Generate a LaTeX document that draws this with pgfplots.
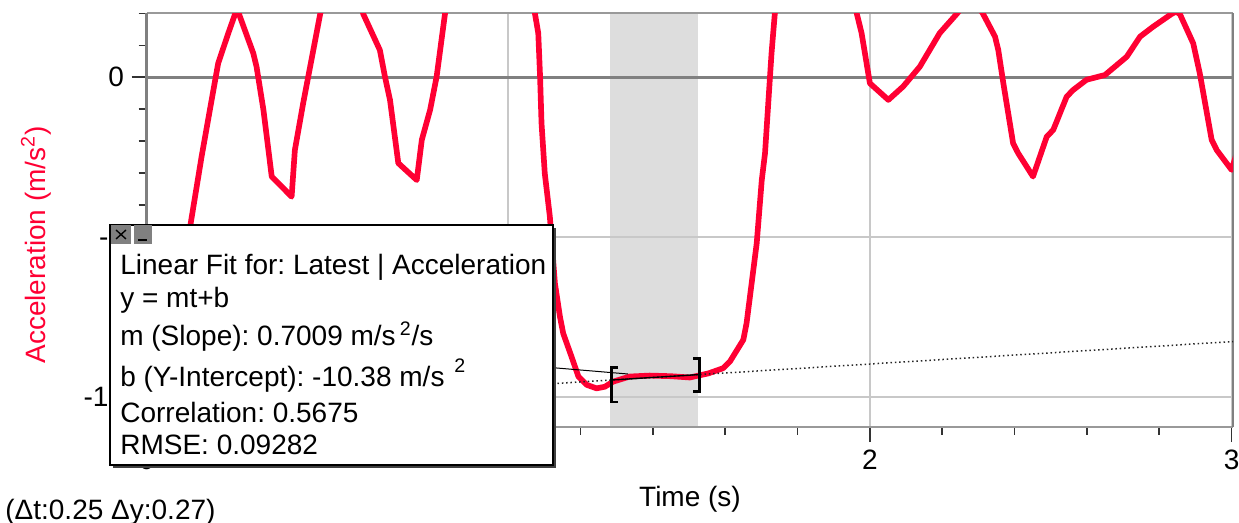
\documentclass[border=0pt]{standalone}
\usepackage{pgfplots}
\pgfplotsset{compat=1.18}
\usepackage{fontspec}
\setmainfont{Liberation Sans}
\frenchspacing
\definecolor{curvered}{RGB}{255,0,51}
\definecolor{gridgray}{RGB}{200,200,200}
\definecolor{zerogray}{RGB}{128,128,128}
\definecolor{bandgray}{RGB}{221,221,221}
\newcommand\fs{\fontsize{16.8pt}{20pt}\selectfont}
\begin{document}
\begin{tikzpicture}
\begin{axis}[
  set layers,
  at={(87.96pt,57.6pt)}, anchor=south west,
  scale only axis, width=651.84pt, height=248.2pt,
  xmin=0, xmax=3.004, ymin=-10.95, ymax=2,
  xtick={0,1,2,3}, xticklabels={0,1,2,3},
  minor x tick num=4,
  ytick={-10,-5,0}, yticklabels={-10,-5,0},
  minor ytick={-9,-8,-7,-6,-4,-3,-2,-1,1,2},
  xtick pos=bottom, ytick pos=left,
  tick align=outside,
  major tick length=9pt, minor tick length=4.8pt,
  tick style={black!80, line width=0.9pt},
  grid=major,
  major grid style={gridgray, line width=1.2pt},
  separate axis lines,
  every outer x axis line/.append style={draw=gray!80, line width=1.2pt},
  every outer y axis line/.append style={draw=gray, line width=1.6pt},
  ticklabel style={font=\fs},
  xticklabel style={yshift=-1pt},
  yticklabel style={xshift=-1pt},
]
% selection band
\addplot[on layer=axis background, fill=bandgray, draw=none]
  coordinates {(1.281,-10.95) (1.524,-10.95) (1.524,2) (1.281,2)} -- cycle;
% zero line
\addplot[on layer=axis grid, zerogray, line width=1.8pt] coordinates {(0,0) (3.004,0)};
% acceleration
\addplot[curvered, line width=3.4pt, line join=round] table {
t a
0.100 -6.10
0.122 -4.57
0.152 -2.49
0.175 -1.02
0.198 0.44
0.226 1.38
0.250 2.15
0.295 0.75
0.304 0.33
0.323 -1.02
0.346 -3.11
0.401 -3.74
0.410 -2.28
0.433 -0.81
0.461 0.85
0.480 1.98
0.520 3.50
0.570 3.40
0.599 1.98
0.645 0.85
0.659 0.02
0.673 -0.71
0.696 -2.69
0.747 -3.22
0.761 -1.96
0.784 -1.02
0.802 0.02
0.825 1.98
0.860 4.50
0.950 6.00
1.040 4.50
1.074 1.98
1.083 1.38
1.088 0.02
1.092 -1.44
1.101 -3.01
1.115 -4.36
1.129 -6.45
1.143 -7.50
1.152 -8.02
1.175 -8.75
1.194 -9.37
1.217 -9.63
1.244 -9.74
1.267 -9.69
1.290 -9.53
1.336 -9.37
1.391 -9.34
1.450 -9.36
1.502 -9.40
1.554 -9.27
1.594 -9.11
1.613 -8.90
1.650 -8.22
1.659 -7.70
1.673 -6.45
1.687 -5.20
1.701 -3.22
1.710 -2.38
1.719 -0.81
1.728 0.75
1.737 1.98
1.780 5.00
1.870 6.00
1.940 3.50
1.964 1.98
1.977 1.38
2.000 -0.19
2.051 -0.71
2.092 -0.29
2.138 0.33
2.193 1.38
2.240 1.98
2.270 2.40
2.290 2.40
2.313 1.98
2.346 1.27
2.355 0.85
2.369 -0.19
2.396 -2.07
2.410 -2.38
2.451 -3.11
2.489 -1.86
2.507 -1.65
2.544 -0.61
2.562 -0.40
2.599 -0.08
2.650 0.07
2.710 0.64
2.747 1.27
2.783 1.58
2.834 1.98
2.846 2.05
2.857 1.98
2.894 1.06
2.912 0.13
2.945 -1.96
2.959 -2.28
3.000 -2.90
3.017 -2.28
};
% linear fit, dotted over full range and solid over the selection
\addplot[black!85, line width=0.9pt, dash pattern=on 0.9pt off 1.7pt] coordinates {(0,-10.38) (3.004,-8.2745)};
\addplot[black, line width=0.8pt] coordinates {(1.281,-9.4821) (1.527,-9.3097)};
% brackets
\draw[black, line width=1.7pt] (axis cs:1.304,-9.10) -- (axis cs:1.286,-9.10) -- (axis cs:1.286,-10.17) -- (axis cs:1.304,-10.17);
\draw[black, line width=1.7pt] (axis cs:1.511,-8.80) -- (axis cs:1.529,-8.80) -- (axis cs:1.529,-9.84) -- (axis cs:1.511,-9.84);
\end{axis}
\begin{scope}[x=0.6pt,y=0.6pt]
% leader line from the box to the fit
\draw[black, line width=0.6pt] (553,155.3) -- (628,149);
% y label and x label
\node[rotate=90, text=curvered, font=\fs, anchor=center] at (36,278) {Acceleration (m/s\textsuperscript{2})};
\node[font=\fs, anchor=base] at (690,16.3) {Time (s)};
% delta readout
\node[font=\fs, anchor=base west, inner sep=0pt] at (5,3) {(Δt:0.25 Δy:0.27)};
% fit box
\fill[black!75] (113,55) rectangle (556,295);
\draw[fill=white, line width=1.2pt] (110,58) rectangle (553,298);
\fill[gray] (111,279) rectangle (131,298);
\draw[black, line width=0.8pt] (116,284) -- (126,293) (116,293) -- (126,284);
\fill[gray] (134,279) rectangle (152,298);
\draw[black, line width=1pt] (138,283) -- (147,283);
\begin{scope}[every node/.style={font=\fs, anchor=base west, inner sep=0pt}]
\node at (120,248) {Linear Fit for: Latest | Acceleration};
\node at (120,215.7) {y = mt+b};
\node at (120,177) {m (Slope): 0.7009 m/s\hspace{0.15em}\textsuperscript{2}/s};
\node at (120,136.3) {b (Y-Intercept): -10.38 m/s\hspace{0.35em}\raisebox{0.15em}{\textsuperscript{2}}};
\node at (120,100.3) {Correlation: 0.5675};
\node at (120,68) {RMSE: 0.09282};
\end{scope}
\pgfresetboundingbox
\path[use as bounding box] (0,0) rectangle (1239,523);
\end{scope}
\end{tikzpicture}
\end{document}
